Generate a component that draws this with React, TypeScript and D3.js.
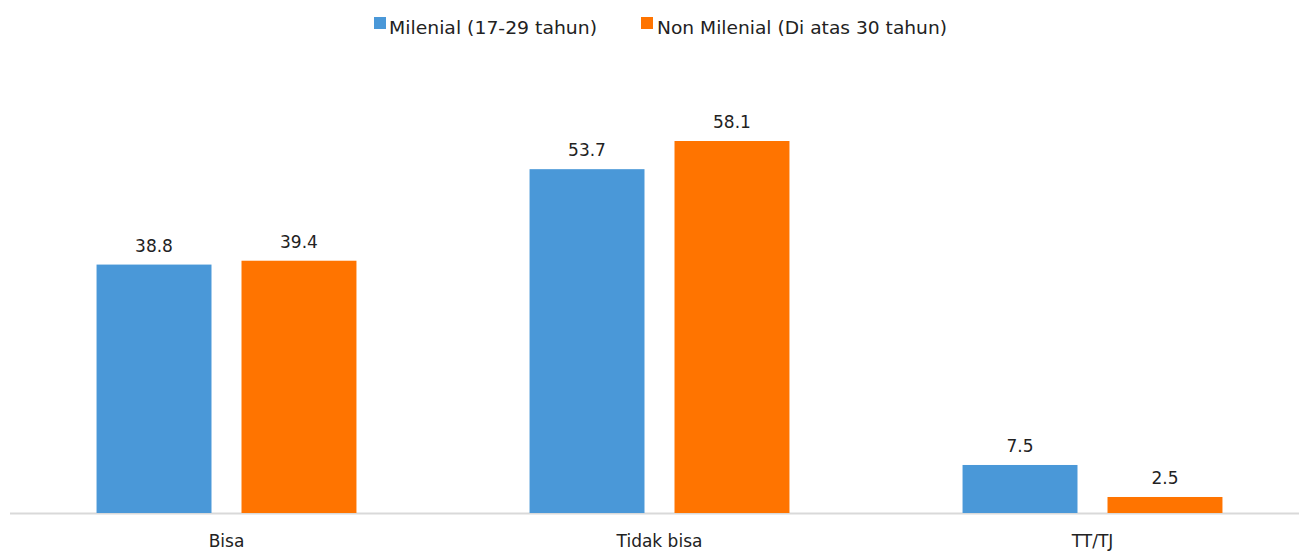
import React from "react";
import * as d3 from "d3";

const categories = ["Bisa", "Tidak bisa", "TT/TJ"];
const seriesNames = ["Milenial (17-29 tahun)", "Non Milenial (Di atas 30 tahun)"];
const milenial = [38.8, 53.7, 7.5];
const nonMilenial = [39.4, 58.1, 2.5];
const colors = ["#4A98D8", "#FF7400"];

const W = 1299;
const H = 552;
const FONT = "'DejaVu Sans', Verdana, sans-serif";

export default function App() {
  const baseline = 513;
  const x = d3.scaleBand<string>().domain(categories).range([10, 1309]).paddingInner(0).paddingOuter(0);
  const y = d3.scaleLinear().domain([0, 58.1]).range([baseline, 141]);
  const inner = d3.scaleBand<number>().domain([0, 1]).range([0, x.bandwidth()]).paddingInner(0.207).paddingOuter(0.597);
  const series = [milenial, nonMilenial];

  return (
    <svg width={W} height={H} style={{ position: "absolute", left: 0, top: 0, background: "#fff" }} fontFamily={FONT}>
      <line x1={10} x2={1299} y1={baseline + 0.5} y2={baseline + 0.5} stroke="#D9D9D9" strokeWidth={2} />
      {categories.map((c, ci) => (
        <g key={c}>
          {series.map((vals, si) => {
            const bx = (x(c) as number) + (inner(si) as number);
            const by = y(vals[ci]);
            return (
              <g key={si}>
                <rect x={bx} y={by} width={inner.bandwidth()} height={baseline - by} fill={colors[si]} />
                <text x={bx + inner.bandwidth() / 2} y={by - 13} textAnchor="middle" fontSize={17} fill="#222">
                  {vals[ci].toFixed(1)}
                </text>
              </g>
            );
          })}
          <text x={(x(c) as number) + x.bandwidth() / 2} y={547} textAnchor="middle" fontSize={17} fill="#222">
            {c}
          </text>
        </g>
      ))}
      <g>
        <rect x={374} y={17} width={12} height={12} fill={colors[0]} />
        <text x={389} y={34} fontSize={18} fill="#222" textLength={208} lengthAdjust="spacingAndGlyphs">{seriesNames[0]}</text>
        <rect x={641} y={17} width={12} height={12} fill={colors[1]} />
        <text x={657} y={34} fontSize={18} fill="#222" textLength={290} lengthAdjust="spacingAndGlyphs">{seriesNames[1]}</text>
      </g>
    </svg>
  );
}
